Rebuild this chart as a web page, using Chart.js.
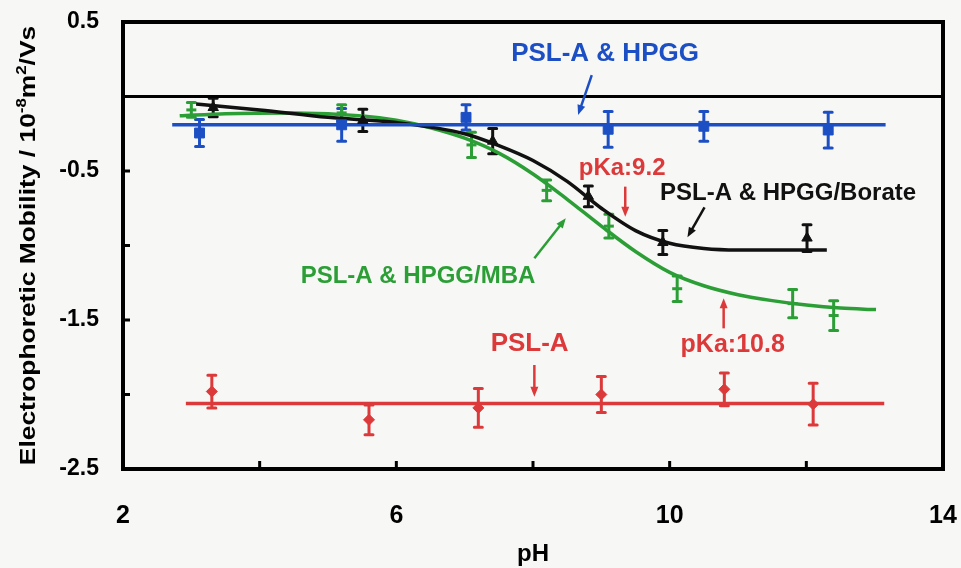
<!DOCTYPE html>
<html>
<head>
<meta charset="utf-8">
<script src="https://cdn.jsdelivr.net/npm/chart.js@4.4.1/dist/chart.umd.min.js"></script>
<style>
  html, body { margin: 0; padding: 0; background: #f7f7f5; }
  #wrap { width: 961px; height: 568px; }
</style>
</head>
<body>
<div id="wrap"><canvas id="mobilityChart" width="961" height="568"></canvas></div>
<script>
// PSL-A alone
var redPH  = [3.3, 5.6, 7.2, 9.0, 10.8, 12.1];
var redMob = [-1.98, -2.17, -2.09, -2.0, -1.965, -2.065];
var redErr = [0.11, 0.10, 0.13, 0.12, 0.11, 0.14];
var redFit = [[2.92, -2.06], [13.14, -2.06]];

// PSL-A & HPGG
var bluePH  = [3.12, 5.2, 7.02, 9.1, 10.5, 12.32];
var blueMob = [-0.245, -0.19, -0.14, -0.22, -0.2, -0.225];
var blueErr = [0.09, 0.11, 0.085, 0.12, 0.1, 0.12];
var blueFit = [[2.72, -0.19], [13.16, -0.19]];

// PSL-A & HPGG/Borate
var blackPH  = [3.32, 5.51, 7.41, 8.81, 9.9, 12.01];
var blackMob = [-0.074, -0.16, -0.30, -0.67, -0.98, -0.95];
var blackErr = [0.062, 0.075, 0.085, 0.07, 0.08, 0.09];
var blackCurve = [[3.07, -0.05], [4, -0.09], [5, -0.14], [6, -0.175], [7, -0.25], [7.5, -0.33],
                  [8, -0.43], [8.5, -0.57], [9, -0.75], [9.5, -0.90], [10, -0.985], [10.5, -1.02],
                  [11, -1.03], [12.3, -1.03]];

// PSL-A & HPGG/MBA
var greenPH  = [3.0, 5.2, 7.1, 8.2, 9.11, 10.11, 11.8, 12.4];
var greenMob = [-0.09, -0.11, -0.325, -0.63, -0.87, -1.29, -1.39, -1.47];
var greenErr = [0.05, 0.055, 0.085, 0.07, 0.08, 0.085, 0.095, 0.1];
var greenCurve = [[2.83, -0.13], [3.5, -0.115], [4.5, -0.11], [5.5, -0.13], [6, -0.16], [6.5, -0.21],
                  [7, -0.28], [7.5, -0.38], [8, -0.52], [8.5, -0.69], [9, -0.87], [9.5, -1.04],
                  [10, -1.18], [10.5, -1.27], [11, -1.33], [11.5, -1.37], [12, -1.40], [12.5, -1.42],
                  [13.02, -1.43]];

var zeroLine = [[2, 0], [14, 0]];

var RED = '#dc3a3a', BLUE = '#1d4fc4', GREEN = '#2c9e36', BLACK = '#111111';
var FONT = '"Liberation Sans", Arial, sans-serif';

// labels and arrows placed in data units
var notes = [
  {text: 'PSL-A & HPGG', x: 7.68, y: 0.24, color: BLUE, size: 26},
  {text: 'pKa:9.2', x: 8.67, y: -0.53, color: RED, size: 24},
  {text: 'PSL-A & HPGG/Borate', x: 9.86, y: -0.695, color: BLACK, size: 24},
  {text: 'PSL-A & HPGG/MBA', x: 4.60, y: -1.25, color: GREEN, size: 24},
  {text: 'pKa:10.8', x: 10.16, y: -1.713, color: RED, size: 25},
  {text: 'PSL-A', x: 7.38, y: -1.708, color: RED, size: 26}
];
var arrows = [
  {from: [8.86, 0.144], to: [8.66, -0.124], color: BLUE},
  {from: [9.35, -0.605], to: [9.35, -0.807], color: RED},
  {from: [10.51, -0.744], to: [10.26, -0.945], color: BLACK},
  {from: [8.02, -1.086], to: [8.48, -0.817], color: GREEN},
  {from: [10.79, -1.556], to: [10.79, -1.354], color: RED},
  {from: [8.02, -1.802], to: [8.02, -2.015], color: RED}
];

function toPoints(xs, ys) {
  return xs.map(function(x, i) { return {x: x, y: ys[i]}; });
}
function pairs(list) {
  return list.map(function(p) { return {x: p[0], y: p[1]}; });
}

var errorSets = [
  {x: redPH, y: redMob, err: redErr, color: RED},
  {x: bluePH, y: blueMob, err: blueErr, color: BLUE},
  {x: blackPH, y: blackMob, err: blackErr, color: BLACK},
  {x: greenPH, y: greenMob, err: greenErr, color: GREEN}
];

var decor = {
  id: 'decor',
  beforeDraw: function(chart) {
    var ctx = chart.ctx;
    ctx.save();
    ctx.fillStyle = '#f7f7f5';
    ctx.fillRect(0, 0, chart.width, chart.height);
    ctx.restore();
  },
  beforeDatasetsDraw: function(chart) {
    var ctx = chart.ctx, xs = chart.scales.x, ys = chart.scales.y;
    ctx.save();
    ctx.lineWidth = 3;
    ctx.lineCap = 'round';
    errorSets.forEach(function(s) {
      ctx.strokeStyle = s.color;
      for (var i = 0; i < s.x.length; i++) {
        var px = xs.getPixelForValue(s.x[i]);
        var top = ys.getPixelForValue(s.y[i] + s.err[i]);
        var bot = ys.getPixelForValue(s.y[i] - s.err[i]);
        ctx.beginPath();
        ctx.moveTo(px, top); ctx.lineTo(px, bot);
        ctx.moveTo(px - 4, top); ctx.lineTo(px + 4, top);
        ctx.moveTo(px - 4, bot); ctx.lineTo(px + 4, bot);
        ctx.stroke();
      }
    });
    ctx.restore();
  },
  afterDatasetsDraw: function(chart) {
    var ctx = chart.ctx, xs = chart.scales.x, ys = chart.scales.y, a = chart.chartArea;
    ctx.save();
    // frame and inward ticks
    ctx.strokeStyle = '#000';
    ctx.lineWidth = 4;
    ctx.strokeRect(a.left, a.top, a.right - a.left, a.bottom - a.top);
    ctx.lineWidth = 3;
    ctx.beginPath();
    xs.ticks.forEach(function(t) {
      var px = xs.getPixelForValue(t.value);
      ctx.moveTo(px, a.bottom); ctx.lineTo(px, a.bottom - 8);
    });
    ys.ticks.forEach(function(t) {
      var py = ys.getPixelForValue(t.value);
      ctx.moveTo(a.left, py); ctx.lineTo(a.left + 7, py);
    });
    ctx.stroke();

    // arrows
    arrows.forEach(function(ar) {
      var x1 = xs.getPixelForValue(ar.from[0]), y1 = ys.getPixelForValue(ar.from[1]);
      var x2 = xs.getPixelForValue(ar.to[0]), y2 = ys.getPixelForValue(ar.to[1]);
      var ang = Math.atan2(y2 - y1, x2 - x1);
      ctx.strokeStyle = ar.color;
      ctx.fillStyle = ar.color;
      ctx.lineWidth = 2.5;
      ctx.beginPath();
      ctx.moveTo(x1, y1);
      ctx.lineTo(x2 - Math.cos(ang) * 6, y2 - Math.sin(ang) * 6);
      ctx.stroke();
      ctx.beginPath();
      ctx.moveTo(x2, y2);
      ctx.lineTo(x2 - Math.cos(ang) * 10 + Math.sin(ang) * 4, y2 - Math.sin(ang) * 10 - Math.cos(ang) * 4);
      ctx.lineTo(x2 - Math.cos(ang) * 10 - Math.sin(ang) * 4, y2 - Math.sin(ang) * 10 + Math.cos(ang) * 4);
      ctx.closePath();
      ctx.fill();
    });

    // text notes
    ctx.textAlign = 'left';
    ctx.textBaseline = 'alphabetic';
    notes.forEach(function(n) {
      ctx.fillStyle = n.color;
      ctx.font = 'bold ' + n.size + 'px ' + FONT;
      ctx.fillText(n.text, xs.getPixelForValue(n.x), ys.getPixelForValue(n.y));
    });

    // x title
    ctx.fillStyle = '#000';
    ctx.textAlign = 'center';
    ctx.font = 'bold 24px ' + FONT;
    ctx.fillText('pH', (a.left + a.right) / 2, 561);

    // y title with superscripts
    var parts = [
      {t: 'Electrophoretic Mobility / 10', sup: false},
      {t: '-8', sup: true},
      {t: 'm', sup: false},
      {t: '2', sup: true},
      {t: '/Vs', sup: false}
    ];
    var total = 0;
    parts.forEach(function(p) {
      ctx.font = 'bold ' + (p.sup ? 14 : 22) + 'px ' + FONT;
      p.w = ctx.measureText(p.t).width;
      total += p.w;
    });
    ctx.translate(35, (a.top + a.bottom) / 2);
    ctx.rotate(-Math.PI / 2);
    ctx.scale(1.2, 1);
    ctx.textAlign = 'left';
    var cx = -total / 2;
    parts.forEach(function(p) {
      ctx.font = 'bold ' + (p.sup ? 14 : 22) + 'px ' + FONT;
      ctx.fillText(p.t, cx, p.sup ? -9 : 0);
      cx += p.w;
    });
    ctx.restore();
  }
};

function noScalePadding(s) {
  s.paddingTop = 0;
  s.paddingBottom = 0;
  s.paddingLeft = 0;
  s.paddingRight = 0;
}

var tickFont = {family: FONT, weight: 'bold'};

new Chart(document.getElementById('mobilityChart').getContext('2d'), {
  type: 'scatter',
  data: {
    datasets: [
      {data: toPoints(redPH, redMob), pointStyle: 'rectRot', pointRadius: 5.5,
       backgroundColor: RED, borderColor: RED, borderWidth: 1},
      {data: toPoints(bluePH, blueMob), pointStyle: 'rect', pointRadius: 7,
       backgroundColor: BLUE, borderColor: BLUE, borderWidth: 1},
      {data: toPoints(blackPH, blackMob), pointStyle: 'triangle', pointRadius: 6,
       backgroundColor: BLACK, borderColor: BLACK, borderWidth: 1},
      {data: toPoints(greenPH, greenMob), pointStyle: 'line', pointRadius: 5,
       backgroundColor: GREEN, borderColor: GREEN, borderWidth: 3},
      {data: pairs(zeroLine), showLine: true, borderColor: '#000', borderWidth: 3, pointRadius: 0},
      {data: pairs(redFit), showLine: true, borderColor: RED, borderWidth: 3.5, pointRadius: 0},
      {data: pairs(blueFit), showLine: true, borderColor: BLUE, borderWidth: 3.5, pointRadius: 0},
      {data: pairs(blackCurve), showLine: true, borderColor: BLACK, borderWidth: 3.5, pointRadius: 0,
       cubicInterpolationMode: 'monotone'},
      {data: pairs(greenCurve), showLine: true, borderColor: GREEN, borderWidth: 3.5, pointRadius: 0,
       cubicInterpolationMode: 'monotone'}
    ]
  },
  options: {
    responsive: false,
    animation: false,
    layout: {padding: {top: 22, right: 18, left: 0, bottom: 0}},
    plugins: {legend: {display: false}, tooltip: {enabled: false}},
    scales: {
      x: {
        type: 'linear', min: 2, max: 14,
        grid: {display: false},
        border: {display: false},
        ticks: {
          stepSize: 2, padding: 24, color: '#000', maxRotation: 0, autoSkip: false,
          font: Object.assign({size: 25}, tickFont),
          callback: function(v) { return (v - 2) % 4 === 0 ? String(v) : ''; }
        },
        afterFit: function(s) { s.height = 99; noScalePadding(s); }
      },
      y: {
        type: 'linear', min: -2.5, max: 0.5,
        grid: {display: false},
        border: {display: false},
        ticks: {
          stepSize: 0.5, padding: 16, color: '#000', autoSkip: false,
          font: Object.assign({size: 23}, tickFont),
          callback: function(v) {
            return Math.abs((v - 0.5) % 1) < 1e-9 ? v.toFixed(1) : '';
          }
        },
        afterFit: function(s) { s.width = 123; noScalePadding(s); }
      }
    }
  },
  plugins: [decor]
});
</script>
</body>
</html>
